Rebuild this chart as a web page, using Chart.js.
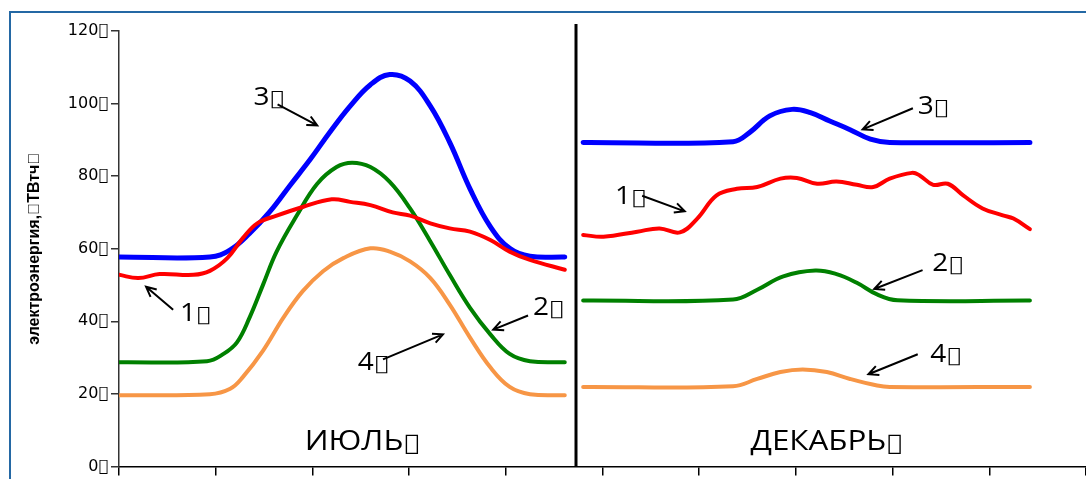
<!DOCTYPE html>
<html>
<head>
<meta charset="utf-8">
<script src="https://cdn.jsdelivr.net/npm/chart.js@4.4.1/dist/chart.umd.min.js"></script>
<style>
  html, body { margin: 0; padding: 0; background: #fff; overflow: hidden; }
</style>
</head>
<body>
<canvas id="chart" width="1086" height="479"></canvas>
<script>
// символ, который в оригинале не отрисовался (квадратик)
const BOX = '\uE000';

const months = ['ИЮЛЬ', 'ДЕКАБРЬ'];
const seriesNames = ['1', '2', '3', '4'];
const seriesColors = ['#ff0000', '#008000', '#0000ff', '#f79646'];
const yTickValues = [0, 20, 40, 60, 80, 100, 120];
const yTitle = 'электроэнергия,' + BOX + 'ТВтч' + BOX;

// июль: [позиция по оси x, ТВтч]
const july1 = [[0, 52.8], [0.20, 51.9], [0.42, 53.0], [0.77, 52.8], [0.94, 53.9], [1.12, 57.4], [1.28, 62.9], [1.43, 67.0], [1.63, 69.1], [1.90, 71.5], [2.20, 73.6], [2.39, 72.9], [2.60, 72.0], [2.83, 70.0], [3.01, 69.1], [3.22, 67.0], [3.42, 65.6], [3.63, 64.7], [3.84, 62.4], [4.04, 59.2], [4.25, 56.9], [4.61, 54.2]];
const july2 = [[0, 28.7], [0.91, 29.0], [1.08, 31.0], [1.22, 34.2], [1.35, 41.0], [1.49, 50.1], [1.63, 59.2], [1.84, 69.2], [2.05, 77.9], [2.25, 82.5], [2.41, 83.7], [2.60, 82.5], [2.80, 78.4], [3.01, 71.1], [3.22, 62.0], [3.42, 52.8], [3.63, 43.7], [3.84, 36.4], [4.04, 31.0], [4.25, 29.0], [4.61, 28.7]];
const july3 = [[0, 57.7], [0.94, 57.7], [1.15, 59.7], [1.35, 64.2], [1.56, 70.2], [1.77, 77.5], [1.98, 84.7], [2.18, 92.1], [2.39, 99.3], [2.60, 105.2], [2.80, 108.0], [3.01, 106.2], [3.22, 99.3], [3.42, 89.3], [3.63, 76.5], [3.84, 66.1], [4.04, 60.1], [4.25, 57.9], [4.61, 57.7]];
const july4 = [[0, 19.6], [0.94, 19.9], [1.15, 21.4], [1.28, 24.6], [1.49, 31.9], [1.70, 41.0], [1.90, 48.3], [2.11, 53.8], [2.32, 57.4], [2.60, 60.1], [2.80, 59.2], [3.01, 56.5], [3.22, 51.9], [3.42, 44.6], [3.63, 35.5], [3.84, 27.3], [4.04, 21.9], [4.25, 19.9], [4.61, 19.6]];

// декабрь
const dec1 = [[4.80, 63.8], [5.01, 63.3], [5.36, 64.7], [5.59, 65.6], [5.80, 64.5], [5.98, 68.3], [6.18, 74.7], [6.39, 76.5], [6.60, 77.0], [6.84, 79.3], [7.01, 79.5], [7.22, 77.9], [7.42, 78.5], [7.63, 77.6], [7.80, 77.0], [7.97, 79.3], [8.20, 80.9], [8.28, 80.2], [8.42, 77.6], [8.57, 77.9], [8.73, 74.7], [8.93, 71.1], [9.14, 69.2], [9.25, 68.3], [9.42, 65.4]];
const dec2 = [[4.80, 45.7], [6.35, 46.0], [6.60, 48.7], [6.87, 52.4], [7.20, 54.0], [7.42, 53.0], [7.63, 50.6], [7.84, 47.4], [8.05, 45.8], [9.42, 45.7]];
const dec3 = [[4.80, 89.3], [6.35, 89.5], [6.52, 92.0], [6.73, 96.6], [6.96, 98.4], [7.15, 97.5], [7.35, 95.2], [7.56, 92.8], [7.77, 90.2], [7.97, 89.3], [9.42, 89.3]];
const dec4 = [[4.80, 21.9], [6.35, 22.1], [6.60, 24.1], [6.84, 26.0], [7.07, 26.7], [7.32, 26.0], [7.56, 24.1], [7.84, 22.3], [7.97, 21.9], [9.42, 21.9]];

// подписи со стрелками (в координатах осей)
const notes = [
  { text: '3', at: [1.39, 99.5], from: [1.64, 99.8], to: [2.05, 94.0] },
  { text: '1', at: [0.63, 40.2], from: [0.56, 43.2], to: [0.28, 49.5] },
  { text: '2', at: [4.28, 41.6], from: [4.23, 41.6], to: [3.87, 37.7] },
  { text: '4', at: [2.47, 26.5], from: [2.73, 29.5], to: [3.35, 36.4] },
  { text: '3', at: [8.26, 97.0], from: [8.21, 98.7], to: [7.69, 92.9] },
  { text: '1', at: [5.13, 72.4], from: [5.41, 74.6], to: [5.85, 70.3] },
  { text: '2', at: [8.41, 53.9], from: [8.31, 54.1], to: [7.81, 48.9] },
  { text: '4', at: [8.39, 28.7], from: [8.26, 30.9], to: [7.75, 25.4] }
];
const monthLabelPos = [[1.92, 4.6], [6.53, 4.6]];
const dividerX = 4.726;

const julySeries = [july1, july2, july3, july4];
const decSeries = [dec1, dec2, dec3, dec4];

function toPoints(arr) {
  return arr.map(p => ({ x: p[0], y: p[1] }));
}

const datasets = [];
[julySeries, decSeries].forEach((group, m) => {
  group.forEach((arr, i) => {
    datasets.push({
      label: seriesNames[i] + ' ' + months[m],
      data: toPoints(arr),
      borderColor: seriesColors[i],
      borderWidth: i === 2 ? 5 : 4,
      pointRadius: 0,
      tension: 0.4,
      borderCapStyle: 'round',
      borderJoinStyle: 'round',
      fill: false
    });
  });
});

// текст с растяжкой по горизонтали и «квадратиком» в конце
function stretchedText(ctx, str, px, py, size) {
  const sx = 1.12;
  ctx.save();
  ctx.translate(px, py);
  ctx.scale(sx, 1);
  ctx.font = size + 'px "Open Sans"';
  ctx.fillText(str, 0, 0);
  const w = ctx.measureText(str).width;
  ctx.font = Math.round(size * 0.8) + 'px "DejaVu Sans"';
  ctx.fillText(BOX, w + 1, 0);
  ctx.restore();
}

// рамка, разделитель, подписи и стрелки
const extras = {
  id: 'extras',
  beforeDraw(chart) {
    const ctx = chart.ctx;
    ctx.save();
    ctx.fillStyle = '#fff';
    ctx.fillRect(0, 0, chart.width, chart.height);
    ctx.strokeStyle = '#2468a4';
    ctx.lineWidth = 2;
    ctx.strokeRect(10, 12, chart.width + 20, chart.height + 20);
    ctx.restore();
  },
  afterDatasetsDraw(chart) {
    const { ctx, scales: { x, y } } = chart;
    ctx.save();

    ctx.strokeStyle = '#000';
    ctx.lineWidth = 3;
    ctx.beginPath();
    ctx.moveTo(x.getPixelForValue(dividerX), y.getPixelForValue(121.9));
    ctx.lineTo(x.getPixelForValue(dividerX), y.getPixelForValue(0));
    ctx.stroke();

    ctx.fillStyle = '#000';
    ctx.textBaseline = 'alphabetic';
    ctx.textAlign = 'left';

    months.forEach((m, i) => {
      stretchedText(ctx, m, x.getPixelForValue(monthLabelPos[i][0]), y.getPixelForValue(monthLabelPos[i][1]), 28);
    });

    ctx.lineWidth = 2;
    notes.forEach(n => {
      stretchedText(ctx, n.text, x.getPixelForValue(n.at[0]), y.getPixelForValue(n.at[1]), 25);
      const x1 = x.getPixelForValue(n.from[0]), y1 = y.getPixelForValue(n.from[1]);
      const x2 = x.getPixelForValue(n.to[0]), y2 = y.getPixelForValue(n.to[1]);
      const a = Math.atan2(y2 - y1, x2 - x1);
      ctx.beginPath();
      ctx.moveTo(x1, y1);
      ctx.lineTo(x2, y2);
      ctx.moveTo(x2 - 11 * Math.cos(a - 0.45), y2 - 11 * Math.sin(a - 0.45));
      ctx.lineTo(x2, y2);
      ctx.lineTo(x2 - 11 * Math.cos(a + 0.45), y2 - 11 * Math.sin(a + 0.45));
      ctx.stroke();
    });
    ctx.restore();
  }
};

new Chart(document.getElementById('chart'), {
  type: 'line',
  data: { datasets: datasets },
  options: {
    responsive: false,
    animation: false,
    layout: { padding: { top: 31, left: 0, right: 0, bottom: 0 } },
    plugins: {
      legend: { display: false },
      tooltip: { enabled: false }
    },
    scales: {
      x: {
        type: 'linear',
        min: 0,
        max: 10,
        ticks: { display: false, stepSize: 1 },
        grid: { drawOnChartArea: false, drawTicks: true, tickLength: 9, color: '#000', lineWidth: 1.5 },
        border: { color: '#000', width: 1.5 },
        afterFit(s) { s.height = 9; }
      },
      y: {
        min: 0,
        max: 120,
        afterBuildTicks(s) { s.ticks = yTickValues.map(v => ({ value: v })); },
        ticks: {
          color: '#000',
          padding: 3,
          font: { family: 'DejaVu Sans', size: 16 },
          callback: v => v + BOX
        },
        grid: { drawOnChartArea: false, drawTicks: true, tickLength: 8, color: '#333', lineWidth: 1.5 },
        border: { color: '#333', width: 1.5 },
        title: {
          display: true,
          text: yTitle,
          color: '#000',
          padding: { top: 25, bottom: 0 },
          font: { family: 'Liberation Sans', size: 16, weight: 'bold' }
        },
        afterFit(s) { s.width = 119; }
      }
    }
  },
  plugins: [extras]
});
</script>
</body>
</html>
